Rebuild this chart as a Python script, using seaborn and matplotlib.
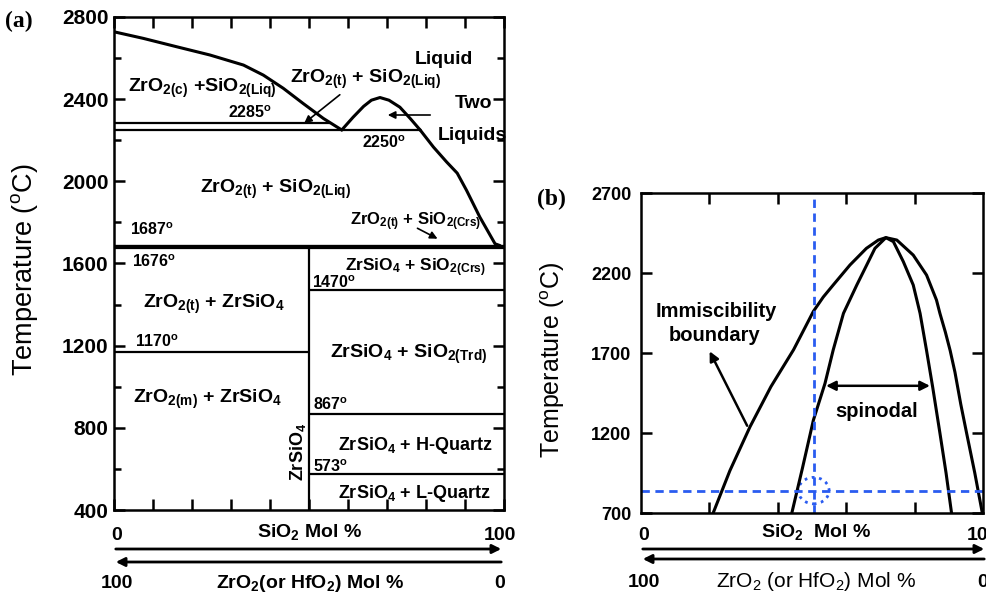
import matplotlib
matplotlib.use('Agg')
import matplotlib.pyplot as plt
from matplotlib.patches import Ellipse
import seaborn as sns

# ---------------- panel (a): ZrO2-SiO2 phase diagram ----------------
liq_left_x = [0, 7.5, 16.1, 24.6, 33.2, 38.3, 43.4, 48.5, 53.7, 58.4]
liq_left_t = [2728, 2696, 2655, 2615, 2566, 2517, 2453, 2379, 2306, 2250]
dome_x = [58.4, 61.3, 64, 66, 68.2, 70.5, 73.3, 76, 78.5]
dome_t = [2250, 2312, 2365, 2395, 2408, 2395, 2361, 2305, 2250]
liq_right_x = [78.5, 81.9, 85.3, 88, 90.4, 93.8, 97.7, 99]
liq_right_t = [2250, 2167, 2094, 2040, 1956, 1826, 1696, 1687]

# isotherms: temperature, from, to (mol % SiO2)
iso_t = [2285, 2250, 1687, 1676, 1470, 1170, 867, 573]
iso_x0 = [0, 0, 0, 0, 50, 0, 50, 50]
iso_x1 = [55.5, 78.5, 100, 100, 100, 50, 100, 100]
iso_lw = [1.6, 1.6, 2.4, 1.6, 1.6, 1.6, 1.6, 1.6]
zircon_x = 50
zircon_t = [400, 1676]

a_yticks = [400, 800, 1200, 1600, 2000, 2400, 2800]

# ---------------- panel (b): liquid immiscibility ----------------
outer_x = [21.1, 26.0, 31.9, 38.0, 44.6, 50.4, 53.3, 56.2, 61.1, 65.9, 69.4, 71.6,
           74.8, 79.6, 83.5, 86.4, 87.4, 89.0, 90.4, 91.8, 93.5, 95.2, 97.6, 99.8]
outer_t = [700, 965, 1240, 1490, 1720, 1960, 2050, 2125, 2250, 2354, 2406, 2421,
           2406, 2312, 2187, 2031, 1948, 1830, 1715, 1580, 1380, 1200, 950, 700]
spin_x = [44.1, 47.2, 50.4, 53.8, 56.2, 59.2, 63.1, 66.0, 68.4, 71.6,
          73.8, 76.7, 79.6, 81.6, 83.5, 85.3, 87.4, 89.2, 90.8]
spin_t = [700, 980, 1280, 1510, 1719, 1948, 2125, 2250, 2354, 2421,
          2396, 2271, 2125, 1948, 1715, 1485, 1200, 950, 700]
sample_x = 50.5
sample_t = 840
b_yticks = [700, 1200, 1700, 2200, 2700]
b_xticks = [20, 40, 60, 80]

blue = '#2a5cf0'
W, H = 987, 595

sns.set_style('ticks', {'axes.edgecolor': 'black', 'xtick.color': 'black',
                        'ytick.color': 'black', 'text.color': 'black',
                        'axes.labelcolor': 'black'})
plt.rcParams['font.family'] = ['Liberation Sans', 'DejaVu Sans']
plt.rcParams['font.weight'] = 'bold'
plt.rcParams['mathtext.fontset'] = 'custom'
plt.rcParams['mathtext.rm'] = 'Liberation Sans:bold'
plt.rcParams['mathtext.bf'] = 'Liberation Sans:bold'
plt.rcParams['mathtext.default'] = 'regular'


def fx(px):
    return px / W


def fy(py):
    return 1 - py / H


def ta(py):
    # pixel row -> temperature in panel (a)
    return 2800 - (py - 17) * 2400 / 493


def xa(px):
    return (px - 114) / 3.9


def tb(py):
    return 2700 - (py - 193) * 2000 / 320


fig = plt.figure(figsize=(9.87, 5.95), dpi=100)
axa = fig.add_axes([fx(114), fy(510), fx(504) - fx(114), fy(17) - fy(510)])
axb = fig.add_axes([fx(641), fy(513), fx(983) - fx(641), fy(193) - fy(513)])

# ---- panel (a) ----
for xs, ts in [(liq_left_x, liq_left_t), (dome_x, dome_t), (liq_right_x, liq_right_t)]:
    sns.lineplot(x=xs, y=ts, ax=axa, sort=False, estimator=None, color='black', lw=2.2)
for t, x0, x1, lw in zip(iso_t, iso_x0, iso_x1, iso_lw):
    axa.hlines(t, x0, x1, color='black', lw=lw)
axa.vlines(zircon_x, zircon_t[0], zircon_t[1], color='black', lw=1.6)

axa.set_xlim(0, 100)
axa.set_ylim(400, 2800)
axa.set_xticks(range(0, 101, 10))
axa.set_xticklabels([])
axa.set_yticks(a_yticks)
axa.set_yticks(range(400, 2801, 200), minor=True)
axa.tick_params(which='both', direction='in', top=True, right=True, width=1.8,
                labelsize=15, pad=4)
axa.tick_params(which='major', length=8)
axa.tick_params(which='minor', length=5)
axa.set_xlabel('')
axa.set_ylabel('')
for s in axa.spines.values():
    s.set_linewidth(1.8)

fs_reg = 14
fs_iso = 11.5
labels_a = [
    ('Liquid', 84.5, ta(64), fs_reg, 'center'),
    ('ZrO$_{2(c)}$ +SiO$_{2(Liq)}$', xa(128), ta(92), fs_reg, 'left'),
    ('ZrO$_{2(t)}$ + SiO$_{2(Liq)}$', xa(290), ta(83), fs_reg, 'left'),
    ('2285$^{o}$', xa(228), ta(118), fs_iso, 'left'),
    ('Two', xa(455), ta(108), fs_reg, 'left'),
    ('Liquids', xa(438), ta(140), fs_reg, 'left'),
    ('2250$^{o}$', xa(362), ta(148), fs_iso, 'left'),
    ('ZrO$_{2(t)}$ + SiO$_{2(Liq)}$', xa(200), ta(193), fs_reg, 'left'),
    ('ZrO$_{2(t)}$ + SiO$_{2(Crs)}$', xa(350), ta(225), 12, 'left'),
    ('1687$^{o}$', xa(130), ta(235), fs_iso, 'left'),
    ('1676$^{o}$', xa(132), ta(267), fs_iso, 'left'),
    ('ZrSiO$_{4}$ + SiO$_{2(Crs)}$', xa(345), ta(271), 12.5, 'left'),
    ('1470$^{o}$', xa(312), ta(288), fs_iso, 'left'),
    ('ZrO$_{2(t)}$ + ZrSiO$_{4}$', xa(143), ta(308), fs_reg, 'left'),
    ('1170$^{o}$', xa(135), ta(347), fs_iso, 'left'),
    ('ZrSiO$_{4}$ + SiO$_{2(Trd)}$', xa(330), ta(358), fs_reg, 'left'),
    ('ZrO$_{2(m)}$ + ZrSiO$_{4}$', xa(133), ta(403), fs_reg, 'left'),
    ('867$^{o}$', xa(313), ta(410), fs_iso, 'left'),
    ('ZrSiO$_{4}$ + H-Quartz', xa(338), ta(450), 13, 'left'),
    ('573$^{o}$', xa(313), ta(472), fs_iso, 'left'),
    ('ZrSiO$_{4}$ + L-Quartz', xa(338), ta(498), 13, 'left'),
]
for txt, x, y, fs, ha in labels_a:
    axa.text(x, y, txt, fontsize=fs, ha=ha, va='baseline')
axa.text(xa(298), ta(452), 'ZrSiO$_{4}$', fontsize=13, rotation=90,
         ha='center', va='center')

arrow_kw = dict(arrowstyle='-|>', color='black', lw=1.2, mutation_scale=11)
axa.annotate('', xy=(xa(302), ta(125)), xytext=(xa(342), ta(93)), arrowprops=arrow_kw)
axa.annotate('', xy=(xa(385), ta(115)), xytext=(xa(433), ta(115)), arrowprops=arrow_kw)
axa.annotate('', xy=(xa(440), ta(240)), xytext=(xa(415), ta(227)), arrowprops=arrow_kw)

# ---- panel (b) ----
sns.lineplot(x=outer_x, y=outer_t, ax=axb, sort=False, estimator=None, color='black', lw=2.2)
sns.lineplot(x=spin_x, y=spin_t, ax=axb, sort=False, estimator=None, color='black', lw=2.2)
axb.axvline(sample_x, color=blue, lw=2, ls=(0, (3, 2)))
axb.axhline(sample_t, color=blue, lw=2, ls=(0, (3, 2)))
axb.add_patch(Ellipse((sample_x, sample_t), width=9, height=165, fill=False,
                      ec=blue, lw=2, ls=':'))

axb.set_xlim(0, 100)
axb.set_ylim(700, 2700)
axb.set_xticks(b_xticks)
axb.set_xticklabels([])
axb.set_yticks(b_yticks)
axb.tick_params(which='both', direction='in', top=True, right=True, width=1.8,
                length=8, labelsize=13, pad=7)
axb.set_xlabel('')
axb.set_ylabel('')
for s in axb.spines.values():
    s.set_linewidth(1.8)

axb.text(21.9, tb(317), 'Immiscibility', fontsize=14.5, ha='center', va='baseline')
axb.text(21.6, tb(341), 'boundary', fontsize=14.5, ha='center', va='baseline')
axb.text(68.9, tb(417), 'spinodal', fontsize=14.5, ha='center', va='baseline')
axb.annotate('', xy=(19.7, 1726), xytext=(31.4, 1230),
             arrowprops=dict(arrowstyle='-|>', color='black', lw=1.8, mutation_scale=14))
axb.annotate('', xy=(53.3, 1495), xytext=(85.3, 1495),
             arrowprops=dict(arrowstyle='<|-|>', color='black', lw=1.8, mutation_scale=14))

# ---- outside text: panel tags, axis titles, composition arrows ----
fig.text(fx(5), fy(27), '(a)', fontsize=17, family='Liberation Serif', ha='left', va='baseline')
fig.text(fx(537), fy(205), '(b)', fontsize=17, family='Liberation Serif', ha='left', va='baseline')
fig.text(fx(25), fy(270), 'Temperature ($^{o}$C)', fontsize=19.5, fontweight='normal',
         rotation=90, ha='center', va='center')
fig.text(fx(553), fy(360), 'Temperature ($^{o}$C)', fontsize=18, fontweight='normal',
         rotation=90, ha='center', va='center')


def comp_axis(x0, x1, y_top, y_r, y_l, y_bot, cx, top_lbl, bot_lbl, fs, bot_fs, bot_weight):
    fig.text(fx(x0 + 4), fy(y_top), '0', fontsize=fs, ha='center', va='baseline')
    fig.text(fx(cx), fy(y_top - 3), top_lbl, fontsize=fs, ha='center', va='baseline')
    fig.text(fx(x1 - 4), fy(y_top), '100', fontsize=fs, ha='center', va='baseline')
    fig.text(fx(x0 + 4), fy(y_bot), '100', fontsize=fs, ha='center', va='baseline')
    fig.text(fx(cx), fy(y_bot), bot_lbl, fontsize=bot_fs, ha='center', va='baseline',
             fontweight=bot_weight)
    fig.text(fx(x1 - 4), fy(y_bot), '0', fontsize=fs, ha='center', va='baseline')
    kw = dict(arrowstyle='-|>', color='black', lw=2, mutation_scale=13)
    axa.annotate('', xy=(fx(x1), fy(y_r)), xytext=(fx(x0), fy(y_r)),
                 xycoords='figure fraction', textcoords='figure fraction', arrowprops=kw)
    axa.annotate('', xy=(fx(x0), fy(y_l)), xytext=(fx(x1), fy(y_l)),
                 xycoords='figure fraction', textcoords='figure fraction', arrowprops=kw)


comp_axis(113, 504, 540, 549, 562, 588, 310, 'SiO$_2$ Mol %',
          'ZrO$_2$(or HfO$_2$) Mol %', 14, 14, 'bold')
comp_axis(640, 987, 540, 549, 559, 587, 816, 'SiO$_2$  Mol %',
          'ZrO$_2$ (or HfO$_2$) Mol %', 14, 15, 'normal')

fig.savefig('out.png', dpi=100, facecolor='white')
